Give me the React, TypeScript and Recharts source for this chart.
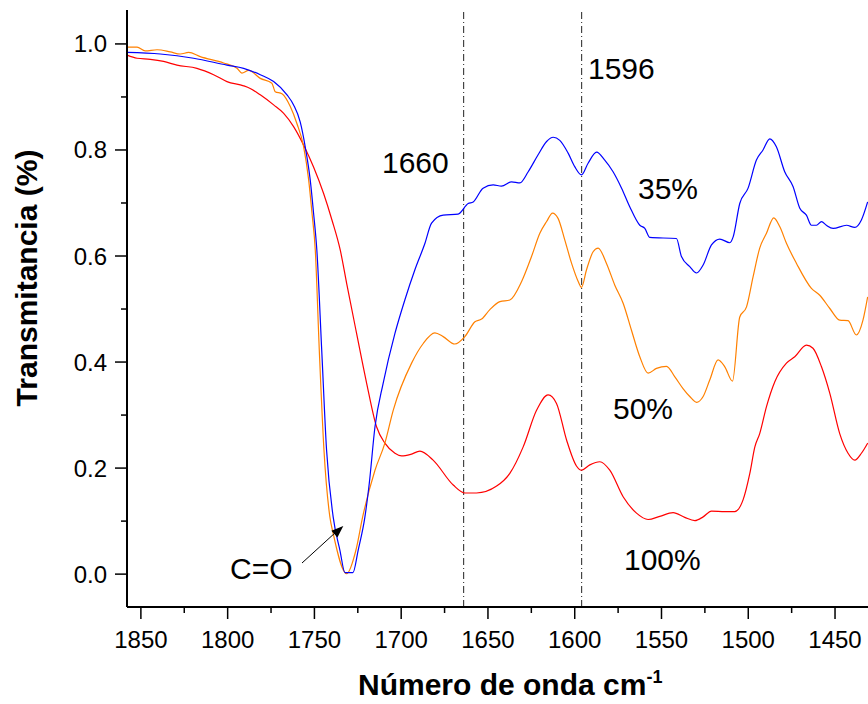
import { LineChart, Line, XAxis, YAxis, ReferenceLine } from 'recharts';

const FONT = '"Liberation Sans", Arial, Helvetica, sans-serif';

// wavenumber (cm-1), transmittance
const blue35: [number, number][] = [
  [1858, 0.984], [1838.8, 0.981], [1819.6, 0.973], [1800.4, 0.96], [1790.8, 0.954], [1781.2, 0.942],
  [1773.5, 0.929], [1765.8, 0.904], [1762, 0.885], [1758.2, 0.853], [1755.3, 0.806], [1752.4, 0.743],
  [1750.5, 0.681], [1748.6, 0.611], [1745.8, 0.423], [1743, 0.234], [1739.2, 0.108], [1735.3, 0.045],
  [1732.4, 0.003], [1727.8, 0.003], [1724.8, 0.045], [1720.9, 0.108], [1718.4, 0.171], [1715.1, 0.278],
  [1710.4, 0.36], [1703.6, 0.454], [1697.9, 0.517], [1692.1, 0.574], [1686.3, 0.624], [1682.5, 0.662],
  [1675.8, 0.677], [1667.2, 0.679], [1661.4, 0.699], [1658.5, 0.702], [1652.8, 0.728], [1647, 0.734],
  [1642.2, 0.732], [1636.4, 0.74], [1631.6, 0.738], [1626.8, 0.759], [1621.1, 0.791], [1616.2, 0.816],
  [1612.4, 0.824], [1608.6, 0.818], [1603.8, 0.794], [1599.9, 0.768], [1596.1, 0.753], [1592.3, 0.775],
  [1587.4, 0.796], [1582.7, 0.781], [1577.9, 0.759], [1573, 0.728], [1568.3, 0.693], [1562.5, 0.658],
  [1559.6, 0.652], [1556.7, 0.635], [1541.4, 0.633], [1538.5, 0.599], [1533.7, 0.58], [1529.8, 0.568],
  [1526, 0.583], [1521.2, 0.621], [1516.4, 0.632], [1510.6, 0.625], [1508.7, 0.636], [1504.9, 0.699],
  [1500.1, 0.728], [1495.3, 0.781], [1491.5, 0.8], [1487.6, 0.821], [1483.8, 0.806], [1479, 0.759],
  [1474.2, 0.731], [1470.3, 0.69], [1466.5, 0.677], [1463.6, 0.658], [1460.7, 0.658], [1457.8, 0.665],
  [1455, 0.658], [1451.1, 0.652], [1443.4, 0.658], [1438.6, 0.654], [1434.8, 0.668], [1431.2, 0.702],
];

const orange50: [number, number][] = [
  [1858, 0.994], [1852.2, 0.994], [1847.5, 0.987], [1840.7, 0.989], [1833.1, 0.985], [1827.3, 0.981],
  [1822.5, 0.984], [1815.8, 0.976], [1802.3, 0.964], [1794.6, 0.954], [1791.8, 0.945], [1787.9, 0.95],
  [1781.2, 0.935], [1774.5, 0.926], [1772.6, 0.91], [1768.7, 0.906], [1763.9, 0.882], [1760.1, 0.85],
  [1756.2, 0.806], [1753.3, 0.743], [1751.4, 0.681], [1749.5, 0.611], [1747.2, 0.423], [1744.5, 0.234],
  [1741.1, 0.108], [1739.2, 0.077], [1731.4, 0.001], [1726.1, 0.045], [1722.2, 0.108], [1715.1, 0.196],
  [1709.4, 0.247], [1704.6, 0.309], [1694, 0.398], [1687.3, 0.435], [1680.6, 0.455], [1675.8, 0.448],
  [1669.1, 0.434], [1663.3, 0.448], [1657.5, 0.476], [1653.7, 0.481], [1648.9, 0.499], [1643.1, 0.514],
  [1637.4, 0.517], [1630.6, 0.552], [1624.9, 0.599], [1620.1, 0.643], [1616.2, 0.665], [1612.8, 0.681],
  [1609.6, 0.671], [1605.7, 0.63], [1601.8, 0.586], [1598, 0.552], [1596.1, 0.541], [1593.2, 0.574],
  [1589.4, 0.608], [1586.5, 0.615], [1581.7, 0.586], [1576.9, 0.545], [1572.1, 0.511], [1567.3, 0.46],
  [1562.5, 0.41], [1557.7, 0.379], [1552.9, 0.388], [1547.1, 0.392], [1542.3, 0.372], [1537.6, 0.35],
  [1533.7, 0.335], [1529.8, 0.324], [1526, 0.335], [1522.2, 0.366], [1517.4, 0.404], [1513.5, 0.391],
  [1509.1, 0.364], [1504.9, 0.485], [1501, 0.504], [1497.2, 0.561], [1493.4, 0.615], [1489.5, 0.643],
  [1485.3, 0.672], [1481.8, 0.655], [1478, 0.624], [1472.2, 0.586], [1463.6, 0.539], [1458.8, 0.526],
  [1453, 0.501], [1447.3, 0.479], [1442.5, 0.478], [1437.7, 0.451], [1433.9, 0.479], [1431.2, 0.523],
];

const red100: [number, number][] = [
  [1858, 0.979], [1852.2, 0.973], [1844.6, 0.971], [1836.9, 0.967], [1829.2, 0.96], [1817.7, 0.954],
  [1808.1, 0.942], [1800.4, 0.929], [1790.8, 0.921], [1787, 0.916], [1781.2, 0.904], [1773.5, 0.885],
  [1767.7, 0.869], [1762, 0.844], [1756.2, 0.809], [1750.5, 0.768], [1744.7, 0.718], [1739.9, 0.668],
  [1735.1, 0.611], [1731.4, 0.548], [1725.7, 0.454], [1719.9, 0.36], [1714.2, 0.278], [1709.4, 0.247],
  [1703.6, 0.228], [1699.8, 0.223], [1694.5, 0.226], [1689.2, 0.232], [1681.6, 0.215], [1670, 0.168],
  [1663.3, 0.153], [1656.6, 0.153], [1645, 0.166], [1637.4, 0.19], [1629.7, 0.24], [1622, 0.309],
  [1615.3, 0.338], [1610.5, 0.322], [1604.7, 0.253], [1599, 0.204], [1596.1, 0.196], [1591.3, 0.206],
  [1585.5, 0.212], [1579.8, 0.196], [1572.1, 0.146], [1564.4, 0.115], [1557.7, 0.103], [1551, 0.109],
  [1543.3, 0.116], [1536.6, 0.107], [1530.8, 0.101], [1526, 0.108], [1521.2, 0.119], [1513.5, 0.118],
  [1507.8, 0.118], [1503, 0.14], [1499.1, 0.19], [1496.2, 0.24], [1493.4, 0.265], [1489.5, 0.316],
  [1484.7, 0.363], [1478, 0.398], [1473.2, 0.41], [1466.5, 0.432], [1462.7, 0.426], [1457.8, 0.391],
  [1453, 0.341], [1447.3, 0.265], [1442.5, 0.228], [1438.6, 0.215], [1434.8, 0.228], [1431.2, 0.247],
];

const xTicks = [1850, 1825, 1800, 1775, 1750, 1725, 1700, 1675, 1650, 1625, 1600, 1575, 1550, 1525, 1500, 1475, 1450];
const xLabelled = [1850, 1800, 1750, 1700, 1650, 1600, 1550, 1500, 1450];
const yTicks = [0, 0.1, 0.2, 0.3, 0.4, 0.5, 0.6, 0.7, 0.8, 0.9, 1.0];
const yLabelled = [0, 0.2, 0.4, 0.6, 0.8, 1.0];
const markerLines = [1664, 1596];

const toRows = (pts: [number, number][]) => pts.map(([w, t]) => ({ w, t }));

const TICK_SIZE = 12;
const X_MARGIN = 12;
const Y_MARGIN = 8;

function XTick({ x, y, payload }: any) {
  const major = xLabelled.includes(payload.value);
  const axisY = y - TICK_SIZE - X_MARGIN;
  return (
    <g>
      <line x1={x} x2={x} y1={axisY} y2={axisY + (major ? 12 : 6)} stroke="#000" strokeWidth={1.5} />
      {major && (
        <text x={x} y={y} dy="0.71em" textAnchor="middle" fontFamily={FONT} fontSize={24} fill="#000">
          {payload.value}
        </text>
      )}
    </g>
  );
}

function YTick({ x, y, payload }: any) {
  const major = yLabelled.includes(payload.value);
  const axisX = x + TICK_SIZE + Y_MARGIN;
  return (
    <g>
      <line x1={axisX - (major ? 12 : 6)} x2={axisX} y1={y} y2={y} stroke="#000" strokeWidth={1.5} />
      {major && (
        <text x={x} y={y} dy="0.355em" textAnchor="end" fontFamily={FONT} fontSize={24} fill="#000">
          {payload.value.toFixed(1)}
        </text>
      )}
    </g>
  );
}

const annotations = [
  { text: '1660', x: 382, y: 173 },
  { text: '1596', x: 588, y: 79 },
  { text: '35%', x: 638, y: 199 },
  { text: '50%', x: 613, y: 419 },
  { text: '100%', x: 624, y: 570 },
  { text: 'C=O', x: 230, y: 579 },
];

export default function App() {
  return (
    <div style={{ position: 'absolute', left: 0, top: 0, width: 868, height: 704, background: '#fff' }}>
      <LineChart width={868} height={704} margin={{ top: 10, right: 0, bottom: 0, left: 0 }}>
        <XAxis
          dataKey="w"
          type="number"
          domain={[1431, 1858]}
          reversed
          allowDataOverflow
          ticks={xTicks}
          interval={0}
          tick={<XTick />}
          tickLine={false}
          tickSize={TICK_SIZE}
          tickMargin={X_MARGIN}
          height={97}
          axisLine={{ stroke: '#000', strokeWidth: 2 }}
          label={{
            content: () => (
              <text x={358} y={695} fontFamily={FONT} fontSize={30} fontWeight="bold" fill="#000">
                Número de onda cm
                <tspan fontSize={18} dy={-12}>-1</tspan>
              </text>
            ),
          }}
        />
        <XAxis
          xAxisId="top"
          orientation="top"
          type="number"
          domain={[1431, 1858]}
          reversed
          tick={false}
          tickLine={false}
          height={0}
          axisLine={{ stroke: '#000', strokeWidth: 2 }}
        />
        <YAxis
          type="number"
          domain={[-0.062, 1.064]}
          allowDataOverflow
          ticks={yTicks}
          interval={0}
          tick={<YTick />}
          tickLine={false}
          tickSize={TICK_SIZE}
          tickMargin={Y_MARGIN}
          width={127}
          axisLine={{ stroke: '#000', strokeWidth: 2 }}
          label={{
            content: () => (
              <text
                x={37}
                y={278}
                transform="rotate(-90 37 278)"
                textAnchor="middle"
                fontFamily={FONT}
                fontSize={30}
                fontWeight="bold"
                fill="#000"
              >
                Transmitancia (%)
              </text>
            ),
          }}
        />
        {markerLines.map(v => (
          <ReferenceLine key={v} x={v} stroke="#222" strokeWidth={1} strokeDasharray="7 3 1 3" />
        ))}
        <Line data={toRows(red100)} dataKey="t" type="monotone" stroke="#ff0000" strokeWidth={1.2} dot={false} isAnimationActive={false} />
        <Line data={toRows(orange50)} dataKey="t" type="monotone" stroke="#ff8000" strokeWidth={1.2} dot={false} isAnimationActive={false} />
        <Line data={toRows(blue35)} dataKey="t" type="monotone" stroke="#0000ff" strokeWidth={1.2} dot={false} isAnimationActive={false} />
      </LineChart>
      <svg
        width={868}
        height={704}
        style={{ position: 'absolute', left: 0, top: 0, pointerEvents: 'none' }}
      >
        {annotations.map(a => (
          <text key={a.text} x={a.x} y={a.y} fontFamily={FONT} fontSize={30} fill="#000">
            {a.text}
          </text>
        ))}
        <line x1={302} y1={563} x2={336} y2={532} stroke="#000" strokeWidth={1} />
        <polygon points="343.3,526 337.4,537.4 331.4,530.8" fill="#000" />
      </svg>
    </div>
  );
}
